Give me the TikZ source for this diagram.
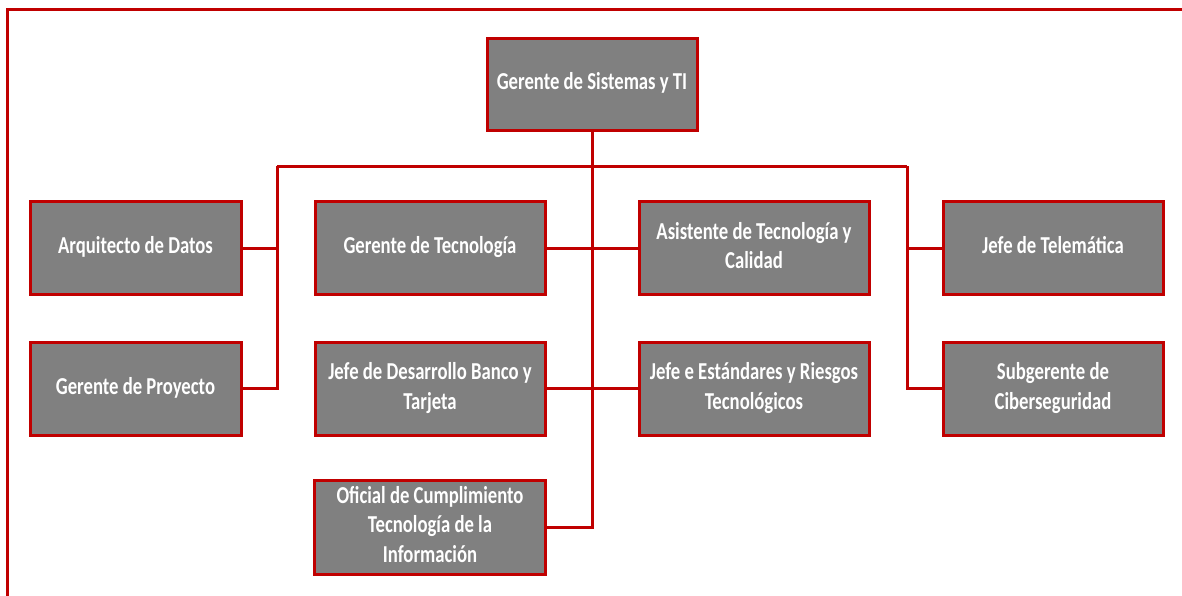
\documentclass[tikz,border=0pt]{standalone}
\usepackage{fontspec}
\usepackage{graphicx}
\setmainfont{Carlito}
\definecolor{orgred}{HTML}{C00000}
\definecolor{orggray}{HTML}{808080}
\newcommand{\bxtext}[1]{\scalebox{1}[1.3]{\begin{tabular}{@{}c@{}}#1\end{tabular}}}
\tikzset{
  orgbox/.style={draw=orgred, line width=3pt, fill=orggray, text=white,
    minimum height=93pt, inner sep=0pt,
    font=\fontsize{18.7}{23}\selectfont\bfseries},
  conn/.style={draw=orgred, line width=3pt},
  frameline/.style={draw=orgred, line width=3pt}
}
\begin{document}
\begin{tikzpicture}[x=1pt,y=-1pt]
\useasboundingbox (0,0) rectangle (1182,595);
\clip (0,0) rectangle (1182,595);
\draw[frameline] (7.5,610) -- (7.5,9.5) -- (1200,9.5);

\node[orgbox, minimum width=210pt, minimum height=92pt] (top) at (592,84) {\bxtext{Gerente de Sistemas y TI}};

\node[orgbox, minimum width=211pt] (arq) at (135.5,248) {\bxtext{Arquitecto de Datos}};
\node[orgbox, minimum width=211pt] (proy) at (135.5,388.5) {\bxtext{Gerente de Proyecto}};

\node[orgbox, minimum width=230pt] (gtec) at (430,248) {\bxtext{Gerente de Tecnología}};
\node[orgbox, minimum width=230pt] (jdes) at (430,388.5) {\bxtext{Jefe de Desarrollo Banco y\\Tarjeta}};
\node[orgbox, minimum width=231pt, minimum height=94pt] (ofi) at (430,527) {\bxtext{Oficial de Cumplimiento\\Tecnología de la\\Información}};

\node[orgbox, minimum width=230pt] (asis) at (754,248) {\bxtext{Asistente de Tecnología y\\Calidad}};
\node[orgbox, minimum width=230pt] (jest) at (754,388.5) {\bxtext{Jefe e Estándares y Riesgos\\Tecnológicos}};

\node[orgbox, minimum width=220pt] (tele) at (1053,248) {\bxtext{Jefe de Telemática}};
\node[orgbox, minimum width=220pt] (sub) at (1053,388.5) {\bxtext{Subgerente de\\Ciberseguridad}};

\coordinate (bl) at (277,166);
\coordinate (br) at (907,166);

\draw[conn] (top.south) |- (ofi.east);
\draw[conn] (bl) -- (br);
\draw[conn] (bl) |- (arq.east);
\draw[conn] (bl) |- (proy.east);
\draw[conn] (br) |- (tele.west);
\draw[conn] (br) |- (sub.west);
\draw[conn] (gtec.east) -- (asis.west);
\draw[conn] (jdes.east) -- (jest.west);
\end{tikzpicture}
\end{document}
